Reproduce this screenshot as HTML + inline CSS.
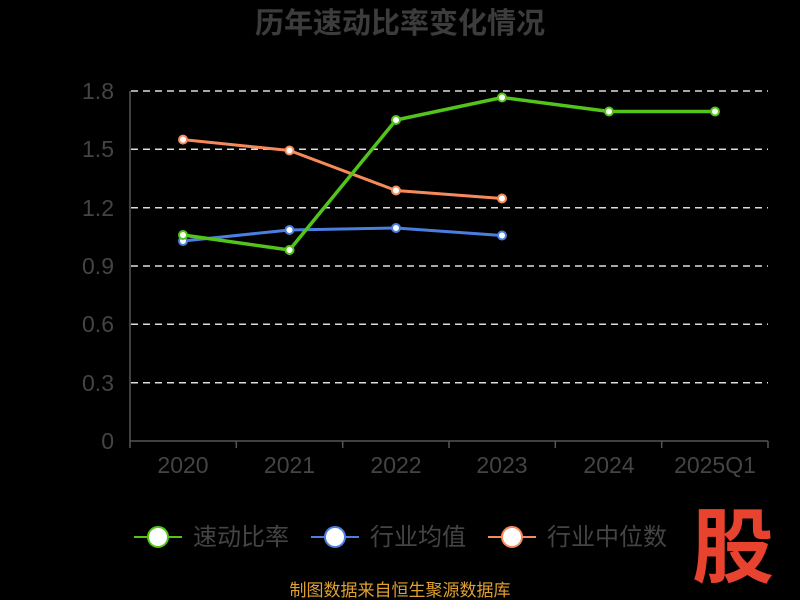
<!DOCTYPE html>
<html><head><meta charset="utf-8"><style>
html,body{margin:0;padding:0;background:#000;}
svg{display:block;font-family:"Liberation Sans","Noto Sans CJK SC",sans-serif;}
</style></head><body>
<svg width="800" height="600" viewBox="0 0 800 600">
<rect width="800" height="600" fill="#000"/>
<text x="400" y="33" text-anchor="middle" font-size="29" font-weight="bold" fill="#3c3c3c">历年速动比率变化情况</text>
<g stroke="#dddddd" stroke-width="1.5" stroke-dasharray="7,5">
<line x1="131" y1="91" x2="768" y2="91"/>
<line x1="131" y1="149.3" x2="768" y2="149.3"/>
<line x1="131" y1="207.7" x2="768" y2="207.7"/>
<line x1="131" y1="266" x2="768" y2="266"/>
<line x1="131" y1="324.3" x2="768" y2="324.3"/>
<line x1="131" y1="382.7" x2="768" y2="382.7"/>
</g>
<g stroke="#555" stroke-width="1.5">
<line x1="130" y1="91" x2="130" y2="441"/>
<line x1="130" y1="441" x2="768" y2="441"/>
<line x1="130" y1="441" x2="130" y2="448"/><line x1="236.3" y1="441" x2="236.3" y2="448"/>
<line x1="342.7" y1="441" x2="342.7" y2="448"/><line x1="449" y1="441" x2="449" y2="448"/>
<line x1="555.3" y1="441" x2="555.3" y2="448"/><line x1="661.7" y1="441" x2="661.7" y2="448"/>
<line x1="768" y1="441" x2="768" y2="448"/>
</g>
<g font-size="23" fill="#444" text-anchor="end">
<text x="114" y="99">1.8</text><text x="114" y="157">1.5</text><text x="114" y="216">1.2</text>
<text x="114" y="274">0.9</text><text x="114" y="332">0.6</text><text x="114" y="391">0.3</text>
<text x="114" y="449">0</text>
</g>
<g font-size="23" fill="#444" text-anchor="middle">
<text x="183" y="473">2020</text><text x="289.5" y="473">2021</text><text x="396" y="473">2022</text>
<text x="502" y="473">2023</text><text x="609" y="473">2024</text><text x="715" y="473">2025Q1</text>
</g>
<polyline fill="none" stroke="#f78a5b" stroke-width="3" points="183,139.6 289.5,150.5 396,190.5 502,198.5"/>
<polyline fill="none" stroke="#4a7fe0" stroke-width="3" points="183,241 289.5,230 396,228 502,235.5"/>
<polyline fill="none" stroke="#52c41a" stroke-width="3.5" points="183,235 289.5,250 396,120 502,97.5 609,111.5 715,111.5"/>
<g fill="#fff" stroke-width="2">
<g stroke="#f78a5b"><circle cx="183" cy="139.6" r="4"/><circle cx="289.5" cy="150.5" r="4"/><circle cx="396" cy="190.5" r="4"/><circle cx="502" cy="198.5" r="4"/></g>
<g stroke="#4a7fe0"><circle cx="183" cy="241" r="4"/><circle cx="289.5" cy="230" r="4"/><circle cx="396" cy="228" r="4"/><circle cx="502" cy="235.5" r="4"/></g>
<g stroke="#52c41a"><circle cx="183" cy="235" r="4"/><circle cx="289.5" cy="250" r="4"/><circle cx="396" cy="120" r="4"/><circle cx="502" cy="97.5" r="4"/><circle cx="609" cy="111.5" r="4"/><circle cx="715" cy="111.5" r="4"/></g>
</g>
<g font-size="24" fill="#444">
<line x1="134" y1="537" x2="182" y2="537" stroke="#52c41a" stroke-width="2"/>
<circle cx="158" cy="537" r="10" fill="#fff" stroke="#52c41a" stroke-width="2"/>
<text x="193" y="545">速动比率</text>
<line x1="311" y1="537" x2="359" y2="537" stroke="#4a7fe0" stroke-width="2"/>
<circle cx="335" cy="537" r="10" fill="#fff" stroke="#4a7fe0" stroke-width="2"/>
<text x="370" y="545">行业均值</text>
<line x1="488" y1="537" x2="536" y2="537" stroke="#f78a5b" stroke-width="2"/>
<circle cx="512" cy="537" r="10" fill="#fff" stroke="#f78a5b" stroke-width="2"/>
<text x="547" y="545">行业中位数</text>
</g>
<text x="733" y="576" text-anchor="middle" font-size="82" font-weight="bold" fill="#e8432e">股</text>
<text x="400" y="596" text-anchor="middle" font-size="17" fill="#e0a030">制图数据来自恒生聚源数据库</text>
</svg>
</body></html>
